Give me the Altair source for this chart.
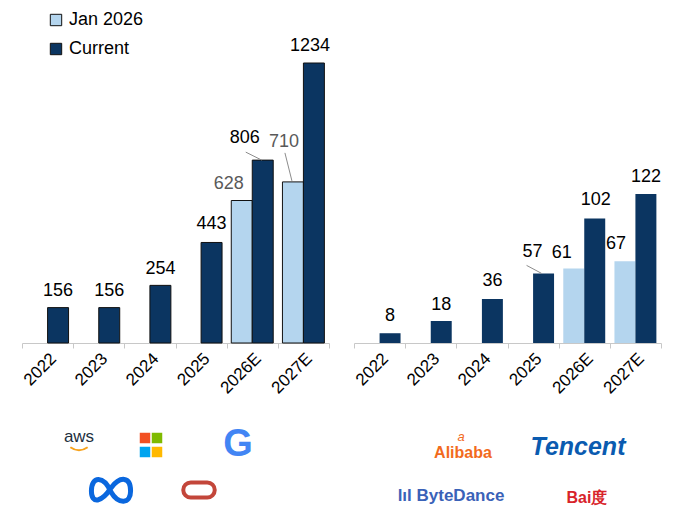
import altair as alt
import pandas as pd

# ---------------- data ----------------
years = ["2022", "2023", "2024", "2025", "2026E", "2027E"]
series = ["Jan 2026", "Current"]
us_jan = [None, None, None, None, 628, 710]
us_cur = [156, 156, 254, 443, 806, 1234]
cn_jan = [None, None, None, None, 61, 67]
cn_cur = [8, 18, 36, 57, 102, 122]

LIGHT = "#b4d5ee"
DARK = "#0b3561"
FONT = "Liberation Sans"

W, H = 307, 280
STEP = W / len(years)
OFF_PAD = 0.22  # outer padding of the in-group (xOffset) band scale
FRAC = {"Jan 2026": (OFF_PAD + 0.5) / (2 + 2 * OFF_PAD),
        "Current": (OFF_PAD + 1.5) / (2 + 2 * OFF_PAD)}

# label nudges in pixels (dx, dy of label centre relative to bar top centre)
us_nudge = {("2026E", "Jan 2026"): (-13, -17), ("2026E", "Current"): (-18, -22),
            ("2027E", "Jan 2026"): (-9, -40), ("2027E", "Current"): (-4, -17),
            ("2024", "Current"): (0, -16), ("2025", "Current"): (0, -18)}
cn_nudge = {("2025", "Current"): (-11, -21), ("2026E", "Jan 2026"): (-12, -16),
            ("2026E", "Current"): (1, -18), ("2027E", "Jan 2026"): (-9, -17),
            ("2024", "Current"): (0, -18), ("2023", "Current"): (0, -16)}
# leader lines (start offset px, end offset px) relative to bar top centre
us_leaders = {("2026E", "Current"): ((-17, -8), (-1, 0)),
              ("2027E", "Jan 2026"): ((-8, -29), (-1, -1))}
cn_leaders = {("2025", "Current"): ((-17, -8), (-2, 0))}

left_logos = [
    dict(t="aws", x=57, y=374, c="#232f3e", s=17, w="normal", st="normal"),
    dict(t="G", x=216, y=382, c="#4285f4", s=38, w="bold", st="normal"),
]
right_logos = [
    dict(t="Alibaba", x=109, y=390, c="#f26b1d", s=16, w="bold", st="normal"),
    dict(t="a", x=107, y=374, c="#f26b1d", s=13, w="normal", st="italic"),
    dict(t="Tencent", x=224, y=384, c="#0a5bb0", s=25, w="bold", st="italic"),
    dict(t="lıl ByteDance", x=97, y=433, c="#3a62b8", s=17, w="bold", st="normal"),
    dict(t="Bai度", x=233, y=435, c="#d8232a", s=16, w="bold", st="normal"),
]
ms_squares = [(-6, -7, "#f25022"), (6, -7, "#7fba00"), (-6, 7, "#00a4ef"), (6, 7, "#ffb900")]
MS_CENTER = (129, 382)
ORACLE_CENTER = (177, 427)
META_CENTER = (89, 427)


def build_df(jan, cur):
    rows = []
    for i, y in enumerate(years):
        for s, vals in (("Jan 2026", jan), ("Current", cur)):
            v = vals[i]
            if v is not None:
                rows.append(dict(year=y, series=s, value=v, idx=i))
    return pd.DataFrame(rows)


def panel(jan, cur, ymax, stroke, jan_text_color, nudges, leaders, logos, show_legend, extra=None):
    df = build_df(jan, cur)
    ppu = H / ymax  # pixels per unit
    df["lx"] = [r.idx + FRAC[r.series] + nudges.get((r.year, r.series), (0, -17))[0] / STEP
                for r in df.itertuples()]
    df["ly"] = [r.value - nudges.get((r.year, r.series), (0, -17))[1] / ppu
                for r in df.itertuples()]
    df["label"] = df["value"].astype(int).astype(str)

    yscale = alt.Scale(domain=[0, ymax], nice=False, zero=True)
    lxscale = alt.Scale(domain=[0, len(years)], nice=False, zero=False)

    legend = alt.Legend(
        title=None, orient="none", legendX=25, legendY=-52, symbolType="square",
        symbolSize=130, symbolStrokeColor="#111111", symbolStrokeWidth=1,
        labelFontSize=18, labelFont=FONT, labelColor="#000000", rowPadding=11,
        labelOffset=4, symbolOpacity=1,
    ) if show_legend else None

    bar_kwargs = dict(stroke=stroke, strokeWidth=1) if stroke else dict(strokeWidth=0)
    bars = alt.Chart(df).mark_bar(**bar_kwargs).encode(
        x=alt.X("year:N", sort=years, title=None,
                scale=alt.Scale(paddingInner=0, paddingOuter=0),
                axis=alt.Axis(labelAngle=-45, labelFontSize=17, labelFont=FONT,
                              labelColor="#000000", domainColor="#c8c8c8",
                              tickColor="#c8c8c8", tickSize=5, tickBand="extent",
                              labelPadding=2, grid=False)),
        xOffset=alt.XOffset("series:N", sort=series,
                            scale=alt.Scale(paddingInner=0, paddingOuter=OFF_PAD)),
        y=alt.Y("value:Q", scale=yscale, axis=None),
        color=alt.Color("series:N", sort=series,
                        scale=alt.Scale(domain=series, range=[LIGHT, DARK]),
                        legend=legend),
    )

    texts = []
    for s, col in (("Jan 2026", jan_text_color), ("Current", "#000000")):
        texts.append(
            alt.Chart(df[df.series == s]).mark_text(
                fontSize=18, font=FONT, color=col, baseline="middle", align="center"
            ).encode(
                x=alt.X("lx:Q", scale=lxscale, axis=None),
                y=alt.Y("ly:Q", scale=yscale, axis=None),
                text="label:N",
            )
        )

    lrows = []
    for (yr, s), ((sx, sy), (ex, ey)) in leaders.items():
        r = df[(df.year == yr) & (df.series == s)].iloc[0]
        cx = r.idx + FRAC[s]
        lrows.append(dict(x1=cx + sx / STEP, y1=r.value - sy / ppu,
                          x2=cx + ex / STEP, y2=r.value - ey / ppu))
    lines = alt.Chart(pd.DataFrame(lrows)).mark_rule(color="#8c8c8c", strokeWidth=1).encode(
        x=alt.X("x1:Q", scale=lxscale, axis=None), x2="x2:Q",
        y=alt.Y("y1:Q", scale=yscale, axis=None), y2="y2:Q",
    )

    logo_layers = []
    for lg in logos:
        logo_layers.append(
            alt.Chart(pd.DataFrame([{"t": lg["t"]}])).mark_text(
                fontSize=lg["s"], font=FONT,
                color=lg["c"], fontWeight=lg["w"], fontStyle=lg["st"],
                align="center", baseline="middle",
            ).encode(x=alt.value(lg["x"]), y=alt.value(lg["y"]), text="t:N")
        )
    if extra:
        logo_layers.extend(extra)

    return alt.layer(bars, *texts, lines, *logo_layers).resolve_scale(x="independent").properties(
        width=W, height=H)


# decorative logo shapes for the left panel
one = pd.DataFrame([{"k": 1}])
ms_layers = [
    alt.Chart(one).mark_point(shape="square", filled=True, size=110, color=c, opacity=1).encode(
        x=alt.value(MS_CENTER[0] + dx), y=alt.value(MS_CENTER[1] + dy))
    for dx, dy, c in ms_squares
]
oracle = alt.Chart(one).mark_point(
    shape="M-0.55,-0.5 L0.55,-0.5 A0.5,0.5 0 0 1 0.55,0.5 L-0.55,0.5 A0.5,0.5 0 0 1 -0.55,-0.5 Z",
    filled=False, size=900, stroke="#c3463a", strokeWidth=4, opacity=1,
).encode(x=alt.value(ORACLE_CENTER[0]), y=alt.value(ORACLE_CENTER[1]))
meta = alt.Chart(one).mark_point(
    shape=("M0,0.1 C-0.35,-0.7 -0.95,-0.7 -0.95,0.05 C-0.95,0.7 -0.45,0.6 0,-0.1 "
           "C0.45,-0.7 0.95,-0.65 0.95,0.05 C0.95,0.7 0.35,0.7 0,0.1"),
    filled=False, size=1700, stroke="#0a67de", strokeWidth=5, opacity=1,
).encode(x=alt.value(META_CENTER[0]), y=alt.value(META_CENTER[1]))
smile = alt.Chart(one).mark_point(
    shape="M-1,-0.2 Q0,0.5 1,-0.2", filled=False, size=300, stroke="#f7a21b",
    strokeWidth=2, opacity=1,
).encode(x=alt.value(57), y=alt.value(386))

left = panel(us_jan, us_cur, 1234, "#111111", "#595959", us_nudge, us_leaders,
             left_logos, True, extra=ms_layers + [oracle, meta, smile])
right = panel(cn_jan, cn_cur, 122 * 280 / 149, None, "#000000", cn_nudge, cn_leaders,
              right_logos, False)

chart = alt.hconcat(left, right, spacing=25, bounds="flush").resolve_scale(
    color="independent"
).properties(
    padding={"left": 12, "top": 3, "right": 0, "bottom": 0},
    background="#ffffff",
).configure_view(strokeWidth=0, stroke="transparent")

chart.save("out.html", embed_options={"renderer": "svg", "actions": False})
